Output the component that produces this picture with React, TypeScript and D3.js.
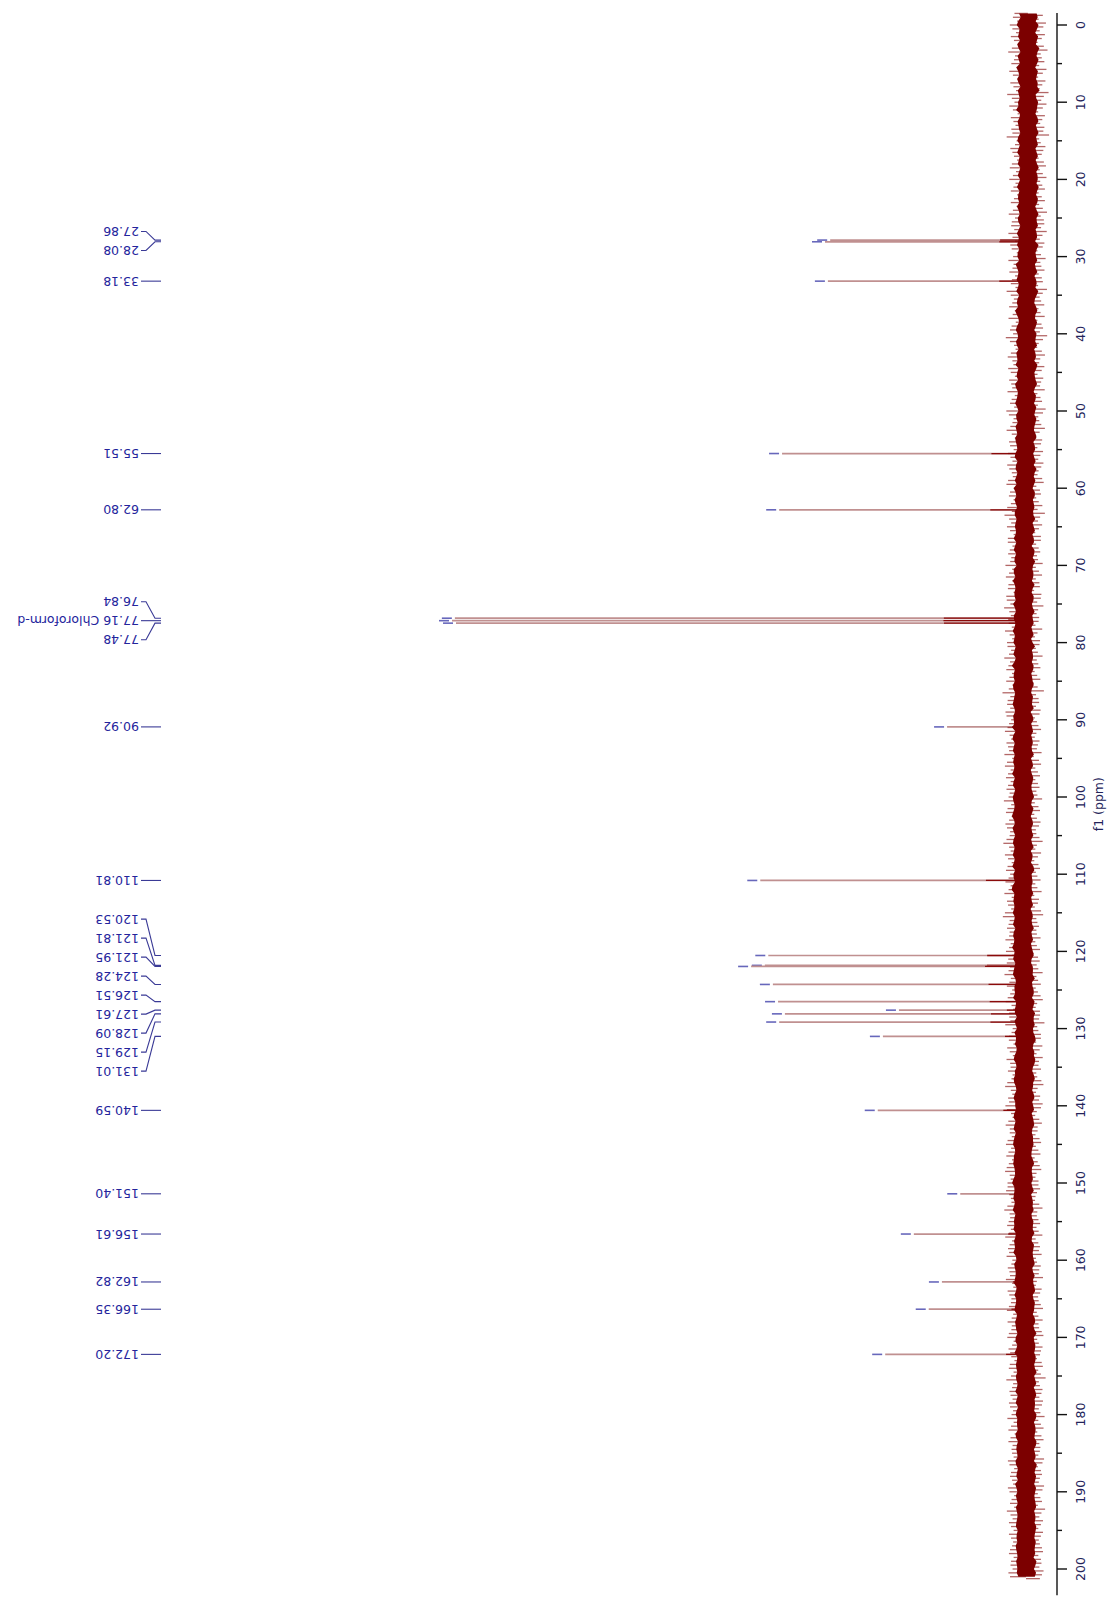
import React from 'react';
import * as d3 from 'd3';

const WIDTH = 1109;
const HEIGHT = 1599;

// ---- data ----
const peakPpm = [27.86, 28.08, 33.18, 55.51, 62.8, 76.84, 77.16, 77.48, 90.92, 110.81, 120.53, 121.81, 121.95, 124.28, 126.51, 127.61, 128.09, 129.15, 131.01, 140.59, 151.4, 156.61, 162.82, 166.35, 172.2];
const peakHeight = [34.0, 34.9, 34.4, 42.4, 42.9, 99.5, 100, 99.3, 13.6, 46.2, 44.8, 45.4, 47.8, 44.0, 43.1, 22.0, 41.9, 42.9, 24.8, 25.7, 11.3, 19.4, 14.5, 16.8, 24.4];

const labelGroups = [
  [27.86, 28.08],
  [33.18],
  [55.51],
  [62.8],
  [76.84, 77.16, 77.48],
  [90.92],
  [110.81],
  [120.53, 121.81, 121.95, 124.28, 126.51, 127.61, 128.09, 129.15, 131.01],
  [140.59],
  [151.4],
  [156.61],
  [162.82],
  [166.35],
  [172.2],
];
const solventPpm = 77.16;
const solventName = 'Chloroform-d';

const majorTicks = [0, 10, 20, 30, 40, 50, 60, 70, 80, 90, 100, 110, 120, 130, 140, 150, 160, 170, 180, 190, 200];
const minorTicks = [5, 15, 25, 35, 45, 55, 65, 75, 85, 95, 105, 115, 125, 135, 145, 155, 165, 175, 185, 195];
const axisTitle = 'f1 (ppm)';

// baseline drift of the noise band (intensity units)
const driftPpm = [-2, 25, 30, 50, 70, 90, 120, 130, 150, 175, 203];
const driftVal = [-0.5, -0.5, -0.35, -0.17, 0.17, 0.35, 0.35, 0.0, 0.35, -0.17, -0.17];

// noise excursions every 0.5 ppm starting at -1.5 ppm (intensity units)
const noiseStart = -1.5;
const noiseStep = 0.5;
const noiseEnd = 201.2;
const noise = [
  1.9,-2.2,1.4,-2.8,2.3,-1.6,2.6,-2.0,1.2,-2.4,3.1,-1.8,2.0,-2.5,1.5,-2.9,2.2,-1.3,2.7,-2.1,
  1.6,-3.3,2.4,-1.9,2.9,-2.2,1.3,-2.6,2.1,-1.7,2.5,-2.3,3.4,-1.5,1.8,-2.7,2.3,-2.0,1.4,-2.4,
  2.8,-1.6,2.2,-2.9,1.7,-2.1,2.6,-1.4,2.0,-2.6,1.5,-2.2,3.0,-1.8,2.4,-2.5,1.9,-3.0,2.2,-1.7,
  2.6,-2.3,1.3,-2.0,2.9,-1.9,2.1,-2.7,1.6,-2.2,2.4,-1.5,3.2,-2.4,1.8,-2.1,2.7,-1.6,2.0,-2.8,
  1.4,-2.2,2.5,-1.9,3.3,-2.5,1.7,-1.4,2.3,-2.9,2.0,-1.8,2.8,-2.3,1.5,-2.6,2.2,-2.0,2.9,-1.5,
  2.1,-2.4,1.6,-3.1,2.6,-1.7,1.9,-2.3,3.0,-2.0,1.4,-2.5,2.3,-1.6,2.7,-2.2,1.8,-2.8,2.4,-1.9,
  1.7,-2.6,2.9,-1.5,2.2,-2.4,1.5,-2.0,2.7,-1.8,3.2,-2.3,1.9,-2.7,2.1,-1.4,2.5,-2.5,1.6,-2.1,
  2.4,-1.8,2.0,-2.9,1.6,-2.2,2.8,-1.6,2.3,-2.4,1.3,-2.7,2.6,-1.9,3.1,-2.1,1.8,-2.3,2.2,-1.6,
  2.9,-2.0,1.5,-2.5,2.4,-1.7,2.1,-3.0,1.9,-2.2,2.6,-1.5,2.0,-2.6,1.4,-2.1,3.3,-1.8,2.3,-2.4,
  1.8,-2.7,2.5,-1.6,2.0,-2.3,2.8,-1.9,1.6,-2.5,2.2,-2.0,2.9,-1.4,2.4,-2.8,1.7,-2.2,2.6,-1.7,
  2.2,-2.5,1.9,-2.1,3.0,-1.6,2.3,-2.6,1.5,-2.0,2.7,-2.4,1.8,-1.9,2.5,-3.1,2.0,-1.7,2.8,-2.2,
  1.5,-2.3,2.6,-1.8,2.1,-2.7,1.7,-2.1,2.9,-1.5,2.4,-2.2,1.6,-2.8,3.2,-1.9,2.1,-2.4,1.9,-2.0,
  2.7,-1.7,2.0,-2.6,1.4,-2.2,2.5,-1.9,2.2,-3.0,1.8,-2.1,2.6,-1.6,2.0,-2.5,2.9,-1.8,1.5,-2.3,
  2.3,-2.1,3.1,-1.7,1.9,-2.4,2.4,-1.5,2.7,-2.2,1.6,-2.8,2.1,-2.0,2.5,-1.6,1.8,-2.6,3.0,-1.9,
  1.6,-2.4,2.2,-2.9,2.6,-1.8,1.5,-2.3,2.8,-2.0,2.0,-1.6,2.4,-2.7,1.7,-2.2,2.6,-1.5,2.1,-2.5,
  2.8,-1.9,1.7,-2.3,2.3,-2.6,2.0,-1.7,1.6,-2.4,3.0,-2.0,1.9,-2.2,2.5,-1.8,2.2,-2.9,1.6,-2.1,
  2.4,-2.2,2.7,-1.6,1.8,-2.5,2.2,-2.1,2.9,-1.7,1.5,-2.6,2.3,-1.9,2.0,-2.4,2.8,-1.6,1.9,-2.7,
  1.9,-2.0,2.5,-2.8,1.6,-1.9,2.6,-2.3,2.1,-1.5,2.4,-2.6,1.7,-2.2,3.1,-1.8,2.0,-2.5,2.3,-1.9,
  2.6,-2.4,1.8,-2.1,2.9,-1.7,2.2,-2.7,1.5,-2.3,2.7,-1.9,2.1,-2.0,1.7,-2.8,2.5,-1.6,2.2,-2.4,
  2.0,-1.8,2.8,-2.5,1.6,-2.1,2.4,-1.6,3.0,-2.3,1.9,-2.6,2.2,-1.7,2.6,-2.2,1.8,-2.0,2.4,-2.6,
  1.7,-2.2,2.3,-1.9,2.7,-2.4,2.0,-1.8,2.5,-2.1,
];

// ---- styling constants ----
const LABEL_BLUE = '#24249c';
const LINE_BLUE = '#3a3a96';
const AXIS_TEXT = '#23235a';
const FONT = '"DejaVu Sans", Verdana, sans-serif';

type BandPt = { ppm: number; l: number; r: number; l2: number; r2: number };

export default function App() {
  const y = d3.scaleLinear().domain([0, 200]).range([25, 1569]);
  const x = d3.scaleLinear().domain([0, 100]).range([1025, 452]);
  const drift = d3.scaleLinear().domain(driftPpm).range(driftVal).clamp(true);
  // visual mapping of the noise magnitudes: hair length and solid-core half width
  const hairAmp = d3.scaleLinear().domain([1.2, 3.4]).range([1.7, 3.7]);
  const coreAmp = d3.scaleLinear().domain([1.2, 3.4]).range([1.25, 2.05]);

  const axisX = 1057;
  const axisTop = y(-1.55);
  const axisBottom = y(203.4);

  const N = noise.length;
  const band: BandPt[] = noise
    .map((v, i) => ({
      ppm: noiseStart + i * noiseStep,
      l: Math.abs(v),
      r: Math.abs(noise[(i + 1) % N]),
      l2: Math.abs(noise[(i + 7) % N]),
      r2: Math.abs(noise[(i + 12) % N]),
    }))
    .filter((d) => d.ppm <= noiseEnd);

  const coreArea = d3
    .area<BandPt>()
    .y((d) => y(d.ppm))
    .x0((d) => x(drift(d.ppm) + coreAmp(d.l2)))
    .x1((d) => x(drift(d.ppm) - coreAmp(d.r2)));

  const labelSpacing = 19;
  const halfStep = (y(noiseStep) - y(0)) / 2;

  return (
    <svg
      width={WIDTH}
      height={HEIGHT}
      style={{ position: 'absolute', left: 0, top: 0, background: '#fff' }}
      fontFamily={FONT}
    >
      <rect x={0} y={0} width={WIDTH} height={HEIGHT} fill="#fff" />

      {/* peaks */}
      {peakPpm.map((p, i) => {
        const h = peakHeight[i];
        const base = drift(p);
        const yy = y(p);
        const tip = x(h);
        return (
          <g key={'pk' + i}>
            <line x1={x(base)} x2={tip} y1={yy} y2={yy} stroke="#c09090" strokeWidth={1.7} />
            <line x1={x(base)} x2={x(base + h * 0.14)} y1={yy} y2={yy} stroke="#8a0a0a" strokeWidth={1.3} />
            <line x1={tip - 3} x2={tip - 13} y1={yy} y2={yy} stroke="#3434a4" strokeWidth={1.6} strokeOpacity={0.75} />
          </g>
        );
      })}

      {/* noise band: hair-like excursions plus jagged solid core */}
      <g stroke="#800000" strokeWidth={1.3} strokeOpacity={0.6}>
        {band.map((d, i) => {
          const c = x(drift(d.ppm));
          const yy = y(d.ppm);
          return (
            <g key={'n' + i}>
              <line x1={c} x2={x(drift(d.ppm) + hairAmp(d.l))} y1={yy} y2={yy} />
              <line
                x1={c}
                x2={x(drift(d.ppm) - hairAmp(d.r))}
                y1={yy + halfStep}
                y2={yy + halfStep}
              />
            </g>
          );
        })}
      </g>
      <path d={coreArea(band) || ''} fill="#7c0000" />

      {/* peak labels */}
      {labelGroups.map((grp, gi) => {
        const ys = grp.map((p) => y(p));
        const center = d3.mean(ys) as number;
        const n = grp.length;
        return (
          <g key={'lg' + gi}>
            {grp.map((p, k) => {
              const ly = center + (k - (n - 1) / 2) * labelSpacing;
              const py = y(p);
              const txt = p.toFixed(2) + (p === solventPpm ? ' ' + solventName : '');
              return (
                <g key={'lb' + k}>
                  <path
                    d={`M141,${ly} H146 L155,${py} H161`}
                    fill="none"
                    stroke={LINE_BLUE}
                    strokeWidth={1.1}
                  />
                  <text
                    transform={`translate(139,${ly}) rotate(180)`}
                    textAnchor="start"
                    dominantBaseline="central"
                    fontSize={12.5}
                    fill={LABEL_BLUE}
                  >
                    {txt}
                  </text>
                </g>
              );
            })}
          </g>
        );
      })}

      {/* axis */}
      <line x1={axisX} x2={axisX} y1={axisTop} y2={axisBottom} stroke="#111" strokeWidth={1.4} />
      {majorTicks.map((t) => (
        <g key={'mt' + t}>
          <line x1={axisX} x2={axisX + 10} y1={y(t)} y2={y(t)} stroke="#111" strokeWidth={1.4} />
          <text
            transform={`translate(1080,${y(t)}) rotate(-90)`}
            textAnchor="middle"
            dominantBaseline="central"
            fontSize={12.5}
            fill={AXIS_TEXT}
          >
            {t}
          </text>
        </g>
      ))}
      {minorTicks.map((t) => (
        <line key={'mn' + t} x1={axisX} x2={axisX + 5} y1={y(t)} y2={y(t)} stroke="#111" strokeWidth={1.4} />
      ))}
      <text
        transform={`translate(1098,${(axisTop + axisBottom) / 2}) rotate(-90)`}
        textAnchor="middle"
        dominantBaseline="central"
        fontSize={12.5}
        fill={AXIS_TEXT}
      >
        {axisTitle}
      </text>
    </svg>
  );
}
